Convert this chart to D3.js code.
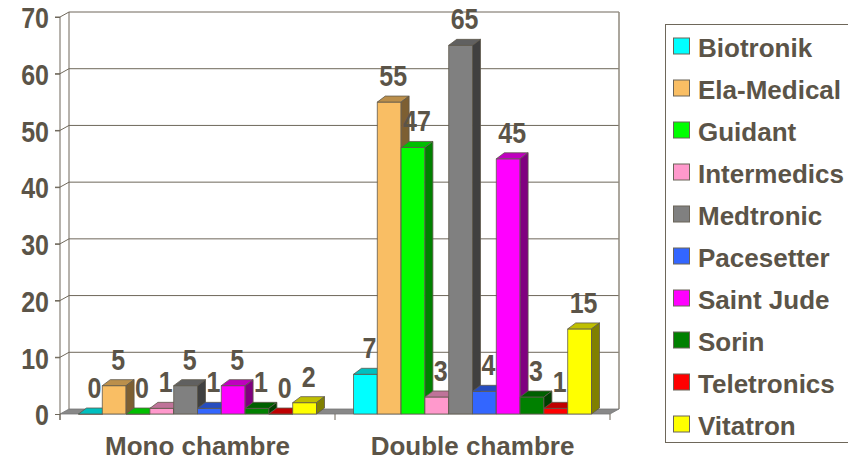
<!DOCTYPE html>
<html>
<head>
<meta charset="utf-8">
<script src="https://cdn.jsdelivr.net/npm/d3@7"></script>
<style>
  html, body { margin: 0; padding: 0; background: #fff; }
  svg { display: block; }
  text { font-family: "Liberation Sans", Arial, sans-serif; font-weight: bold; fill: #5b5448; }
</style>
</head>
<body>
<svg id="chart" width="848" height="460"></svg>
<script>
const categories = ["Mono chambre", "Double chambre"];
const seriesNames = ["Biotronik", "Ela-Medical", "Guidant", "Intermedics", "Medtronic",
                     "Pacesetter", "Saint Jude", "Sorin", "Teletronics", "Vitatron"];
const monoValues   = [0, 5, 0, 1, 5, 1, 5, 1, 0, 2];
const doubleValues = [7, 55, 47, 3, 65, 4, 45, 3, 1, 15];
const seriesColors = ["#00ffff", "#f9be64", "#00ff00", "#ff99cc", "#808080",
                      "#3366ff", "#ff00ff", "#008000", "#ff0000", "#ffff00"];
const yTicks = [0, 10, 20, 30, 40, 50, 60, 70];

const valuesByCategory = [monoValues, doubleValues];

const svg = d3.select("#chart");
const textColor = "#5b5448";
const lineColor = "#6e675a";
const outline = "#5f594d";
const digitStretch = 1.2;

// geometry
const plot = { left: 60, right: 610, top: 17, bottom: 414 };
const wall = { dx: 9, dy: -5 };
const bar = { dx: 8, dy: -6 };

const x0 = d3.scaleBand().domain(categories).range([plot.left, plot.right]).padding(0);
const gap = 18.5;
const x1 = d3.scaleBand().domain(seriesNames).range([gap, x0.bandwidth() - gap]).padding(0);
const y = d3.scaleLinear().domain([0, 70]).range([plot.bottom, plot.top]);

// back wall
const gWall = svg.append("g");
gWall.append("rect")
  .attr("x", plot.left + wall.dx).attr("y", y(70) + wall.dy)
  .attr("width", plot.right - plot.left).attr("height", y(0) - y(70))
  .attr("fill", "#fff").attr("stroke", "none");

// gridlines on back wall and left wall
yTicks.forEach(t => {
  if (t === 0) return;
  const yf = y(t), yb = y(t) + wall.dy;
  gWall.append("path")
    .attr("d", `M${plot.left - 5},${yf}L${plot.left},${yf}L${plot.left + wall.dx},${yb}L${plot.right + wall.dx},${yb}`)
    .attr("fill", "none").attr("stroke", lineColor).attr("stroke-width", 1);
});

// left wall back edge and right edge of back wall
gWall.append("line")
  .attr("x1", plot.left + wall.dx).attr("x2", plot.left + wall.dx)
  .attr("y1", y(70) + wall.dy).attr("y2", y(0) + wall.dy)
  .attr("stroke", lineColor);
gWall.append("line")
  .attr("x1", plot.right + wall.dx).attr("x2", plot.right + wall.dx)
  .attr("y1", y(70) + wall.dy).attr("y2", y(0) + wall.dy)
  .attr("stroke", "#8f897d").attr("stroke-width", 1.5);

// floor
svg.append("path")
  .attr("d", `M${plot.left},${y(0)}L${plot.right},${y(0)}L${plot.right + wall.dx},${y(0) + wall.dy}L${plot.left + wall.dx},${y(0) + wall.dy}Z`)
  .attr("fill", "#888888").attr("stroke", "#777").attr("stroke-width", 0.8);

// y axis (front)
const yAxis = d3.axisLeft(y).tickValues(yTicks).tickSize(5).tickPadding(6).tickFormat(d3.format("d"));
const gy = svg.append("g").attr("transform", `translate(${plot.left},0)`).call(yAxis);
gy.select(".domain").remove();
gy.selectAll(".tick line").attr("stroke", lineColor);
gy.selectAll(".tick text").style("font-size", "25px").attr("fill", textColor)
  .attr("dy", "0.36em").attr("transform", `scale(1,${digitStretch})`);
svg.append("line")
  .attr("x1", plot.left).attr("x2", plot.left)
  .attr("y1", y(70)).attr("y2", y(0) + 6)
  .attr("stroke", lineColor);

// x axis (front)
const xAxis = d3.axisBottom(x0).tickSize(0).tickPadding(0);
const gx = svg.append("g").attr("transform", `translate(0,${plot.bottom})`).call(xAxis);
gx.select(".domain").remove();
gx.selectAll(".tick text").style("font-size", "26px").attr("fill", textColor).attr("y", 41).attr("dy", 0);
[plot.left, x0(categories[1]), plot.right].forEach(xv => {
  svg.append("line").attr("x1", xv).attr("x2", xv).attr("y1", plot.bottom).attr("y2", plot.bottom + 6)
    .attr("stroke", lineColor);
});

// bars
function shade(c, k) {
  const col = d3.rgb(c);
  return d3.rgb(col.r * k, col.g * k, col.b * k).formatHex();
}
const gBars = svg.append("g");
const gLabels = svg.append("g");
categories.forEach((cat, ci) => {
  const vals = valuesByCategory[ci];
  seriesNames.forEach((s, si) => {
    const v = vals[si];
    const xl = x0(cat) + x1(s);
    const w = x1.bandwidth();
    const yt = y(v), yb = y(0);
    const color = seriesColors[si];
    const g = gBars.append("g");
    // front
    g.append("path")
      .attr("d", `M${xl},${yb}L${xl},${yt}L${xl + w},${yt}L${xl + w},${yb}Z`)
      .attr("fill", color).attr("stroke", outline).attr("stroke-width", 0.8);
    // top
    g.append("path")
      .attr("d", `M${xl},${yt}L${xl + bar.dx},${yt + bar.dy}L${xl + w + bar.dx},${yt + bar.dy}L${xl + w},${yt}Z`)
      .attr("fill", shade(color, 0.75)).attr("stroke", outline).attr("stroke-width", 0.8);
    // side
    g.append("path")
      .attr("d", `M${xl + w},${yb}L${xl + w},${yt}L${xl + w + bar.dx},${yt + bar.dy}L${xl + w + bar.dx},${yb + bar.dy}Z`)
      .attr("fill", shade(color, 0.5)).attr("stroke", outline).attr("stroke-width", 0.8);
    // label
    const lx = xl + w / 2 + 4;
    const ly = yt + bar.dy - 10;
    gLabels.append("text")
      .attr("transform", `translate(${lx},${ly}) scale(1,${digitStretch})`)
      .attr("text-anchor", "middle")
      .style("font-size", "25px")
      .text(v);
  });
});

// legend
const legend = svg.append("g");
legend.append("rect")
  .attr("x", 665.5).attr("y", 24.5).attr("width", 200).attr("height", 418)
  .attr("fill", "#fff").attr("stroke", lineColor).attr("stroke-width", 1);
seriesNames.forEach((s, i) => {
  const cy = 46.5 + i * 42;
  legend.append("rect")
    .attr("x", 673.5).attr("y", cy - 8.5).attr("width", 16).attr("height", 16)
    .attr("fill", seriesColors[i]).attr("stroke", "#6a6458").attr("stroke-width", 1);
  legend.append("text")
    .attr("x", 698).attr("y", cy + 10)
    .style("font-size", "26px")
    .text(s);
});
</script>
</body>
</html>
